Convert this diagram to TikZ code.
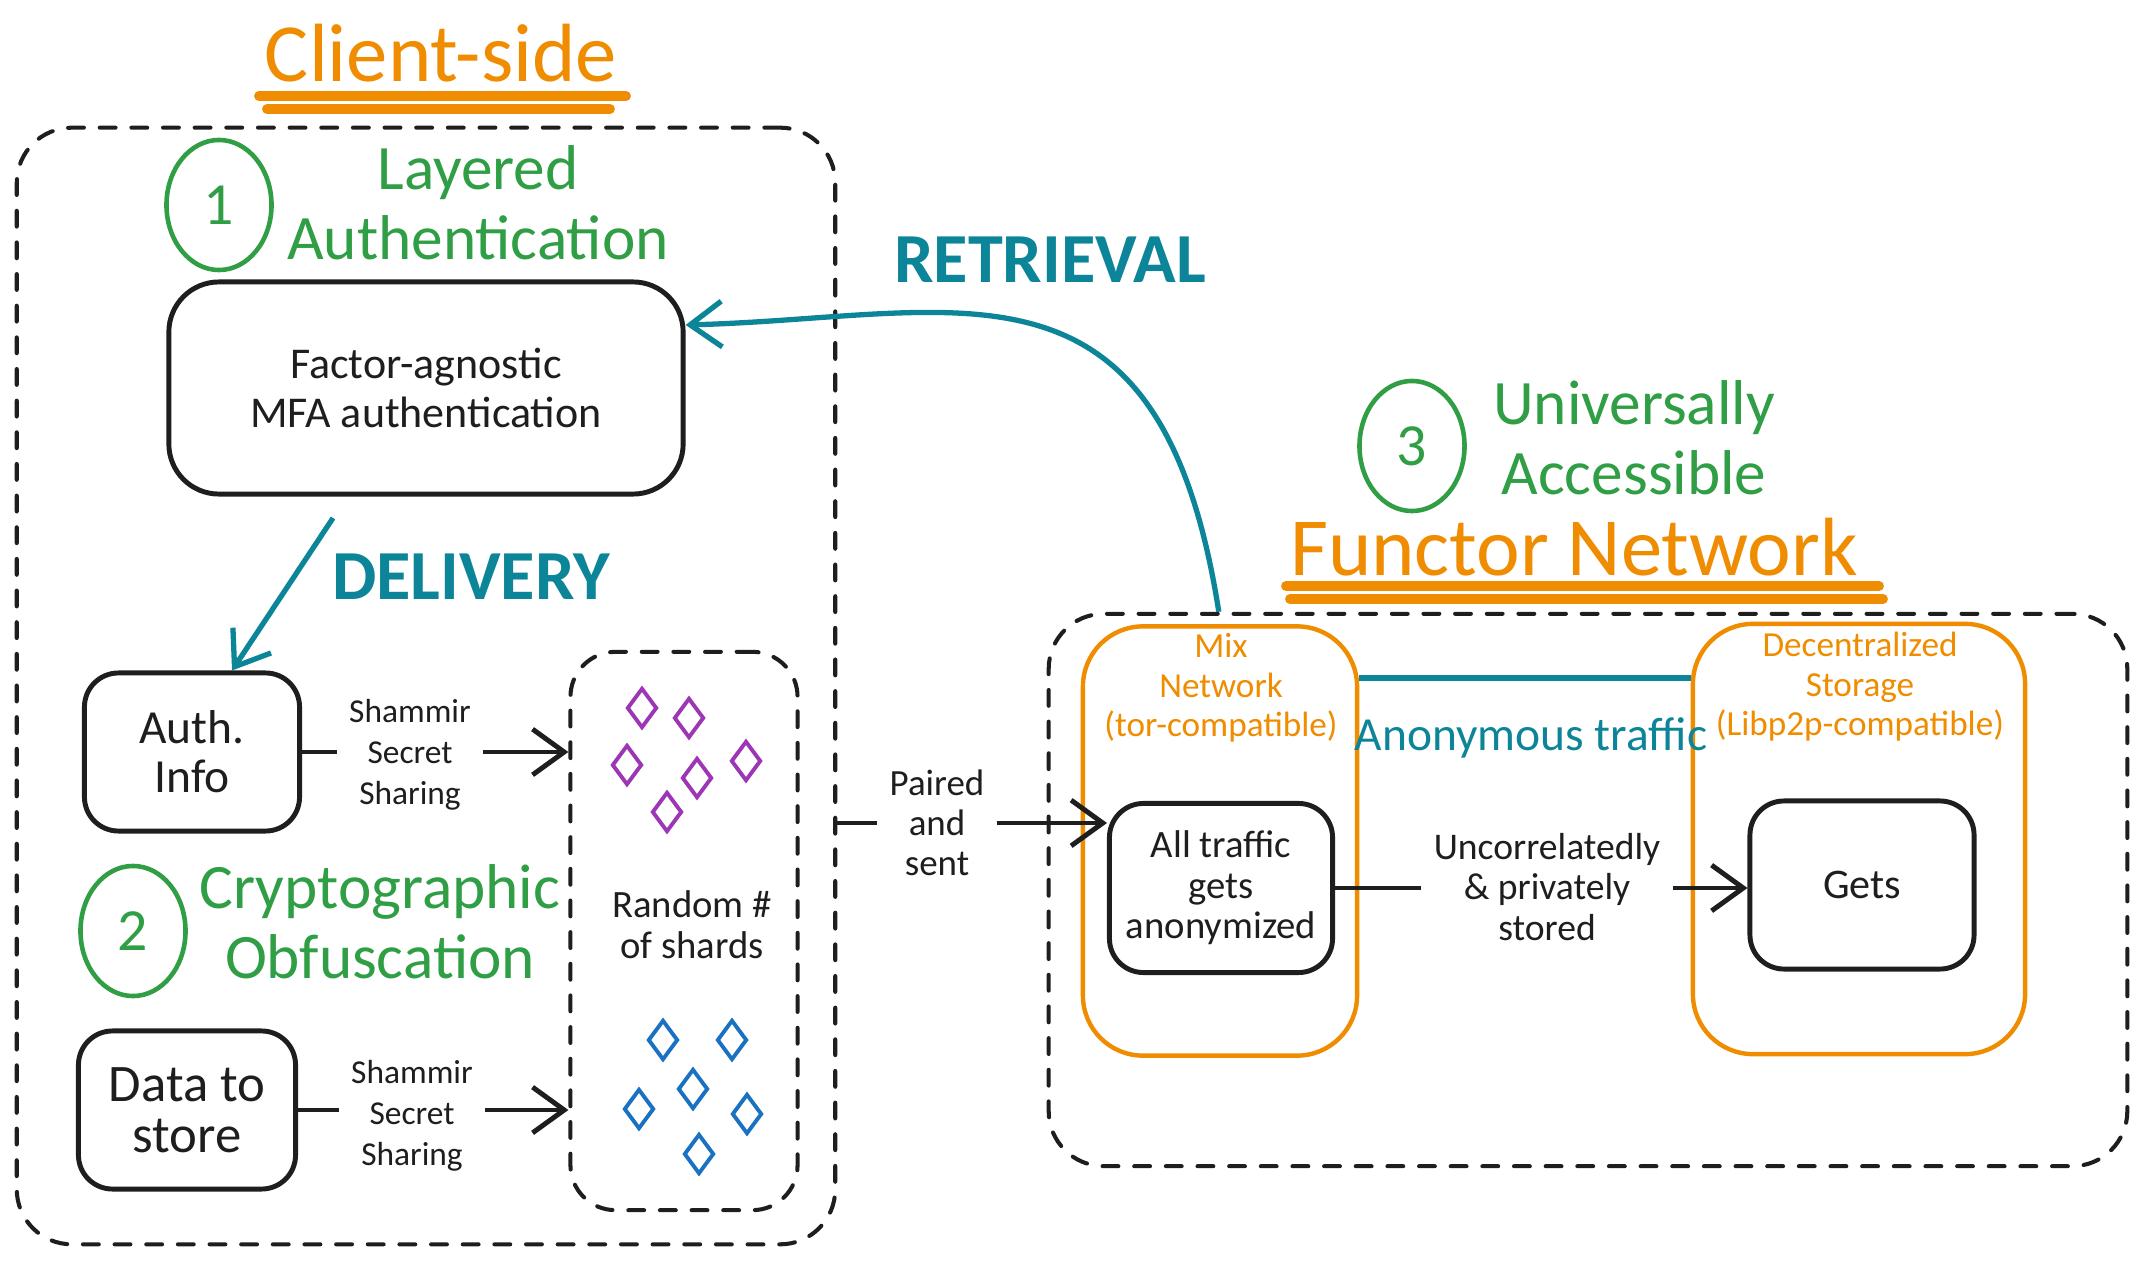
\documentclass[tikz,border=0pt]{standalone}
\usepackage{fontspec}
\setmainfont{Carlito}
\usepackage{tikz}
\usetikzlibrary{arrows.meta,shapes.geometric}

\definecolor{exorange}{HTML}{F08C00}
\definecolor{exgreen}{HTML}{2F9E44}
\definecolor{exteal}{HTML}{0C8599}
\definecolor{expurple}{HTML}{9C36B5}
\definecolor{exblue}{HTML}{1971C2}
\definecolor{exblack}{HTML}{1E1E1E}

\newcommand{\fsz}[2]{\fontsize{#1}{#2}\selectfont}

\begin{document}
\begin{tikzpicture}[x=0.01cm, y=-0.01cm,
  >={Straight Barb[length=9pt,width=13pt]},
  roundbox/.style={draw=exblack, line width=1.4pt, rounded corners=0.34cm, align=center, text=exblack},
  dashbox/.style={draw=exblack, line width=1.15pt, dash pattern=on 4.5pt off 4.5pt, line cap=round, rounded corners=0.55cm},
  netbox/.style={draw=exorange, line width=1.25pt, rounded corners=0.6cm},
  ring/.style={ellipse, draw=exgreen, line width=1.3pt, text=exgreen, minimum width=1.05cm, minimum height=1.3cm, inner sep=0pt, font=\fsz{17}{17}},
  greenhead/.style={text=exgreen, align=center, inner sep=0pt, font=\fsz{18}{20}},
  tealhead/.style={text=exteal, font=\bfseries\fsz{20}{20}, anchor=base},
  bigtitle/.style={text=exorange, inner sep=0pt, font=\fsz{23.5}{24}, anchor=base},
  note/.style={text=exblack, align=center, font=\fsz{9.5}{11.7}},
  orangenote/.style={text=exorange, align=center, font=\fsz{10}{11.2}},
  shard/.style={diamond, draw, line width=1.1pt, minimum width=0.3cm, minimum height=0.4cm, inner sep=0pt},
  uline/.style={exorange, line width=2.8pt, line cap=round},
  flow/.style={exblack, line width=1.4pt},
  tealflow/.style={exteal, line width=1.5pt},
]

\useasboundingbox[fill=white] (0,0) rectangle (2148,1261);

% client side
\node[bigtitle] (cs) at (441,82) {Client-side};
\draw[uline] (259,96) -- (626,96);
\draw[uline] (267,109) -- (610,109);

\node[dashbox, minimum width=8.18cm, minimum height=11.16cm] (client) at (426,686) {};

\node[ring] (n1) at (219,205) {1};
\node[greenhead] (lay) at (478,203) {Layered\\Authentication};
\node[roundbox, minimum width=5.14cm, minimum height=2.12cm, rounded corners=0.5cm, font=\fsz{12.5}{14}] (fa) at (426,388) {Factor-agnostic\\MFA authentication};

\node[tealhead] (ret) at (1050,283) {RETRIEVAL};
\node[tealhead] (del) at (471,600) {DELIVERY};

\node[roundbox, minimum width=2.15cm, minimum height=1.58cm, font=\fsz{13.5}{14}] (auth) at (192,752) {Auth.\\Info};
\node[note] (ss1) at (410,755) {Shammir\\Secret\\Sharing};

\node[dashbox, minimum width=2.27cm, minimum height=5.58cm, rounded corners=0.45cm] (shards) at (684,931) {};

\node[shard, draw=expurple] (p1) at (642,708) {};
\node[shard, draw=expurple] (p2) at (689,718) {};
\node[shard, draw=expurple] (p3) at (627,765) {};
\node[shard, draw=expurple] (p4) at (697,778) {};
\node[shard, draw=expurple] (p5) at (746,761) {};
\node[shard, draw=expurple] (p6) at (667,812) {};

\node[note, font=\fsz{11}{11.7}] (rnd) at (692,925) {Random \#\\of shards};

\node[shard, draw=exblue] (b1) at (663,1040) {};
\node[shard, draw=exblue] (b2) at (732,1040) {};
\node[shard, draw=exblue] (b3) at (693,1089) {};
\node[shard, draw=exblue] (b4) at (639,1109) {};
\node[shard, draw=exblue] (b5) at (747,1114) {};
\node[shard, draw=exblue] (b6) at (699,1154) {};

\node[ring] (n2) at (133,931) {2};
\node[greenhead] (cry) at (380,922) {Cryptographic\\Obfuscation};

\node[roundbox, minimum width=2.17cm, minimum height=1.58cm, font=\fsz{15}{14.5}] (data) at (187,1110) {Data to\\store};
\node[note] (ss2) at (412,1116) {Shammir\\Secret\\Sharing};

\node[note, font=\fsz{10.5}{11.4}] (pas) at (937,823) {Paired\\and\\sent};

% functor network
\node[ring] (n3) at (1412,446) {3};
\node[greenhead] (uni) at (1634,438) {Universally\\Accessible};

\node[bigtitle] (fn) at (1574,576) {Functor Network};
\draw[uline] (1286,586) -- (1879,586);
\draw[uline] (1290,599) -- (1883,599);

\node[dashbox, minimum width=10.78cm, minimum height=5.52cm] (func) at (1588,890) {};

\node[netbox, minimum width=2.74cm, minimum height=4.29cm] (mix) at (1220,841) {};
\node[orangenote] (mixt) at (1221,688) {Mix\\Network\\(tor-compatible)};

\node[netbox, minimum width=3.32cm, minimum height=4.3cm] (stor) at (1859,839) {};
\node[orangenote] (stort) at (1860,687) {Decentralized\\Storage\\(Libp2p-compatible)};

\node[roundbox, minimum width=2.23cm, minimum height=1.69cm, font=\fsz{11}{11.5}] (traf) at (1221,888) {All traffic\\gets\\anonymized};
\node[roundbox, minimum width=2.24cm, minimum height=1.68cm, font=\fsz{12}{12}] (gets) at (1862,885) {Gets};

\node[note, font=\fsz{10.7}{11.4}] (unc) at (1547,887) {Uncorrelatedly\\\&{} privately\\stored};
\node[text=exteal, font=\fsz{13.5}{14}, anchor=base] (anon) at (1531,750) {Anonymous traffic};

% connectors
\coordinate (dl) at (333,518);
\draw[tealflow, ->] (dl) -- ([xshift=0.4cm]auth.north);
\draw[tealflow, ->] ([xshift=-3.69cm]func.north) .. controls (1160,235) and (960,318) .. ([yshift=0.63cm]fa.east);

\draw[flow] (auth.east) -- (ss1.west |- auth.east);
\draw[flow, ->] (ss1.east |- auth.east) -- (shards.west |- auth.east);
\draw[flow] (data.east) -- (ss2.west |- data.east);
\draw[flow, ->] (ss2.east |- data.east) -- (shards.west |- data.east);

\draw[flow] (client.east |- pas) -- (pas.west);
\draw[flow, ->] (pas.east) -- (traf.west |- pas.east);

\draw[flow] (traf.east) -- (unc.west |- traf.east);
\draw[flow, ->] (unc.east |- traf.east) -- (gets.west |- traf.east);

\draw[exteal, line width=1.7pt] ([yshift=-0.54cm]mix.north east) coordinate (at) -- (stor.west |- at);

\end{tikzpicture}
\end{document}
